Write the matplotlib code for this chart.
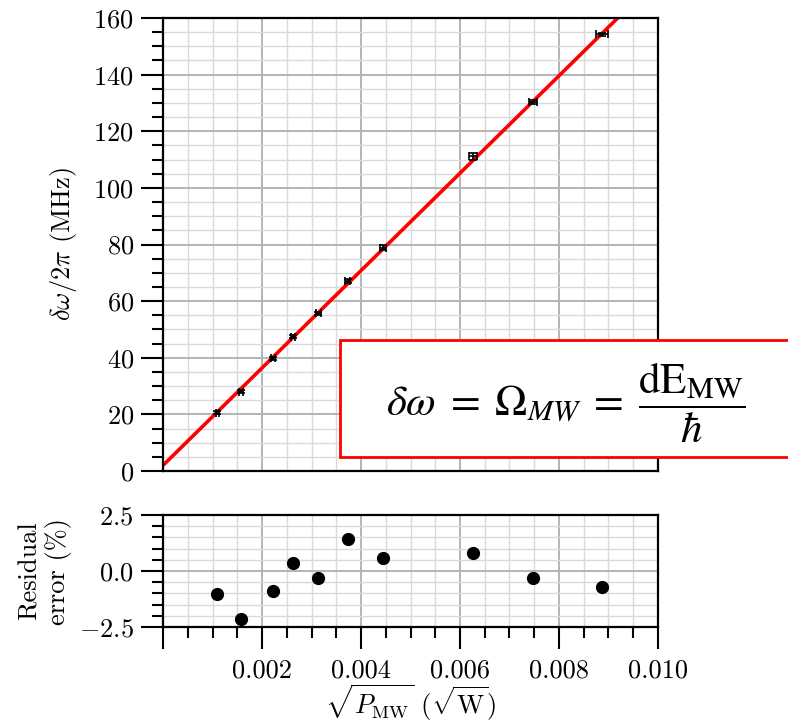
import numpy as np
import matplotlib
matplotlib.use('Agg')
import matplotlib.pyplot as plt
from matplotlib.patches import Rectangle
from matplotlib.ticker import MultipleLocator, FuncFormatter

plt.rcParams['font.family'] = 'cmr10'
plt.rcParams['mathtext.fontset'] = 'cm'
plt.rcParams['axes.formatter.use_mathtext'] = True
plt.rcParams['font.size'] = 19

# sqrt(P_MW) in sqrt(W)
sqrt_p = [0.001095, 0.001566, 0.002218, 0.002635, 0.003139, 0.00373, 0.00444, 0.00627, 0.00747, 0.00887]
# delta omega / 2pi in MHz
domega = [20.6, 28.0, 39.8, 47.5, 55.7, 67.1, 78.9, 111.1, 130.4, 154.2]
x_err = [0.00003, 0.00004, 0.00004, 0.00004, 0.00005, 0.00005, 0.00006, 0.00008, 0.00008, 0.00012]
y_err = [0.6, 0.6, 0.5, 0.6, 0.6, 0.6, 0.8, 1.4, 0.6, 0.6]
# residual error in percent
residual = [-1.02, -2.16, -0.89, 0.37, -0.33, 1.42, 0.58, 0.80, -0.30, -0.70]
# linear fit
fit_slope = 17200.0
fit_offset = 2.0

fig = plt.figure(figsize=(7.88, 7.27), dpi=100)
ax = fig.add_axes([0.2069, 0.3521, 0.6281, 0.6231])
axr = fig.add_axes([0.2069, 0.1375, 0.6281, 0.1541])

for a in (ax, axr):
    a.set_axisbelow(True)
    a.grid(True, which='major', color='#b4b4b4', lw=1.4)
    a.grid(True, which='minor', color='#dadada', lw=1.0)
    for s in a.spines.values():
        s.set_linewidth(1.6)
    a.set_xlim(0, 0.010)
    a.xaxis.set_major_locator(MultipleLocator(0.002))
    a.xaxis.set_minor_locator(MultipleLocator(0.0005))
    a.tick_params(which='major', length=16, width=1.5, pad=5)
    a.tick_params(which='minor', length=8, width=1.5)

# main plot
xs = np.linspace(0, 0.010, 50)
ax.plot(xs, fit_slope * xs + fit_offset, color='#ff0000', lw=2.6, zorder=2)
ax.errorbar(sqrt_p, domega, xerr=x_err, yerr=y_err, fmt='none', ecolor='black',
            elinewidth=1.2, capsize=3, capthick=1.2, zorder=3)
ax.set_ylim(0, 160)
ax.yaxis.set_major_locator(MultipleLocator(20))
ax.yaxis.set_minor_locator(MultipleLocator(5))
ax.tick_params(axis='x', which='both', bottom=False, labelbottom=False)
ax.set_ylabel(r'$\delta\omega/2\pi$ (MHz)')

# residuals
axr.plot(sqrt_p, residual, 'o', color='black', ms=8.5, zorder=3)
axr.set_ylim(-2.5, 2.5)
axr.set_yticks([-2.5, 0.0, 2.5])
axr.yaxis.set_minor_locator(MultipleLocator(0.5))
axr.xaxis.set_major_formatter(FuncFormatter(lambda v, p: '' if abs(v) < 1e-9 else f'{v:.3f}'))
axr.tick_params(axis='x', which='major', pad=7)
axr.set_ylabel('Residual\nerror (%)', linespacing=1.15)
axr.set_xlabel(r'$\sqrt{P_{\rm MW}}$ ($\sqrt{\rm W}$)', labelpad=0)

ax.yaxis.set_label_coords(-0.17, 0.5)
axr.yaxis.set_label_coords(-0.184, 0.5)

# formula box
rect = Rectangle((340 / 788, 1 - 457 / 727), 0.6, 117 / 727, transform=fig.transFigure,
                 facecolor='white', edgecolor='#ff0000', lw=2, zorder=5, clip_on=False)
fig.add_artist(rect)
fig.text(566 / 788, 1 - 403 / 727,
         r'$\delta\omega\;=\;\Omega_{MW}\;=\;\dfrac{\mathrm{dE}_{\mathrm{MW}}}{\hbar}$',
         math_fontfamily='stix', fontsize=31, ha='center', va='center', zorder=6)

fig.savefig('out.png', dpi=100)
